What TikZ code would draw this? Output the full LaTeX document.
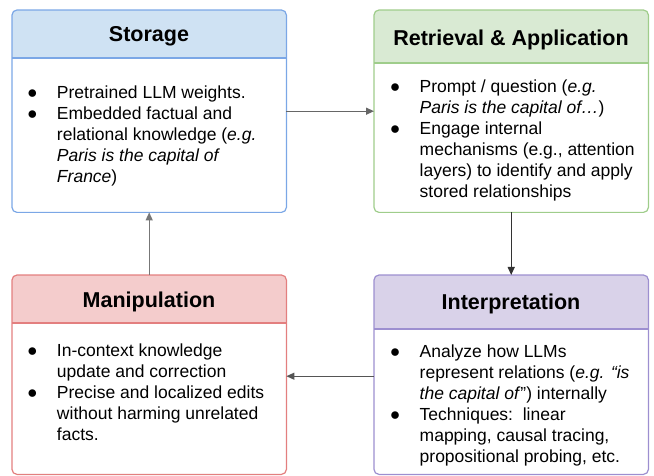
\documentclass[tikz,border=0pt]{standalone}
\usepackage{fontspec}
\setmainfont{Liberation Sans}
\usetikzlibrary{arrows.meta,calc}
\definecolor{bluehdr}{HTML}{CFE2F3}
\definecolor{blueln}{HTML}{7BA7E6}
\definecolor{greenhdr}{HTML}{D9EAD3}
\definecolor{greenln}{HTML}{9FCD8B}
\definecolor{redhdr}{HTML}{F4CCCC}
\definecolor{redln}{HTML}{E37F7F}
\definecolor{purphdr}{HTML}{D9D2E9}
\definecolor{purpln}{HTML}{9D8FD0}
\definecolor{arrA}{HTML}{666666}
\definecolor{arrB}{HTML}{333333}
\definecolor{arrC}{HTML}{777777}
\definecolor{arrD}{HTML}{555555}
\newcommand\bitem[1]{\par\noindent\hangindent=24.5bp\hangafter=1\makebox[0pt]{●}\hspace*{24.5bp}#1}
\newcommand\bodybox[1]{\begin{minipage}[t]{250bp}\parfillskip=0pt plus 1fil #1\end{minipage}}
\tikzset{
 panel/.style={rectangle, minimum width=274bp, inner sep=0pt, anchor=north west},
 outline/.style={line width=1.2bp, rounded corners=5bp},
 ttl/.style={font=\fontsize{21.5bp}{26bp}\selectfont\bfseries, anchor=base, inner sep=0pt},
 body/.style={font=\fontsize{17.5bp}{21bp}\selectfont, anchor=base west, inner sep=0pt},
 flow/.style={line width=1.3bp, -{Triangle[length=8bp,width=7bp]}},
}
\begin{document}
\begin{tikzpicture}[x=1bp,y=-1bp]
\useasboundingbox (0,0) rectangle (654,476);
% Storage
\node[panel, minimum height=202bp] (storage) at (12,10) {};
\begin{scope}
\clip[rounded corners=5bp] (storage.north west) rectangle (storage.south east);
\fill[bluehdr] (storage.north west) rectangle ($(storage.north east)+(0,48)$);
\end{scope}
\draw[blueln, line width=1.2bp] ($(storage.north west)+(0,48)$) -- ($(storage.north east)+(0,48)$);
\draw[outline, blueln] (storage.north west) rectangle (storage.south east);
\node[ttl] (storageT) at (149,42) {Storage};
\node[body] (storageB) at (32.3,99) {\bodybox{\bitem{Pretrained LLM weights.}\bitem{Embedded factual and\newline relational knowledge (\textit{e.g.}\newline \textit{Paris is the capital of}\newline \textit{France})}}};
% Retrieval
\node[panel, minimum height=202bp] (retrieval) at (374,10) {};
\begin{scope}
\clip[rounded corners=5bp] (retrieval.north west) rectangle (retrieval.south east);
\fill[greenhdr] (retrieval.north west) rectangle ($(retrieval.north east)+(0,53)$);
\end{scope}
\draw[greenln, line width=1.2bp] ($(retrieval.north west)+(0,53)$) -- ($(retrieval.north east)+(0,53)$);
\draw[outline, greenln] (retrieval.north west) rectangle (retrieval.south east);
\node[ttl] (retrievalT) at (511,45.5) {Retrieval \& Application};
\node[body] (retrievalB) at (395,93) {\bodybox{\bitem{Prompt / question (\textit{e.g.}\newline \textit{Paris is the capital of…})}\bitem{Engage internal\newline mechanisms (e.g., attention\newline layers) to identify and apply\newline stored relationships}}};
% Manipulation
\node[panel, minimum height=199bp] (manip) at (12,275) {};
\begin{scope}
\clip[rounded corners=5bp] (manip.north west) rectangle (manip.south east);
\fill[redhdr] (manip.north west) rectangle ($(manip.north east)+(0,48)$);
\end{scope}
\draw[redln, line width=1.2bp] ($(manip.north west)+(0,48)$) -- ($(manip.north east)+(0,48)$);
\draw[outline, redln] (manip.north west) rectangle (manip.south east);
\node[ttl] (manipT) at (149,307.5) {Manipulation};
\node[body] (manipB) at (32.3,356.5) {\bodybox{\bitem{In-context knowledge\newline update and correction}\bitem{Precise and localized edits\newline without harming unrelated\newline facts.}}};
% Interpretation
\node[panel, minimum height=199bp] (interp) at (374,275) {};
\begin{scope}
\clip[rounded corners=5bp] (interp.north west) rectangle (interp.south east);
\fill[purphdr] (interp.north west) rectangle ($(interp.north east)+(0,54)$);
\end{scope}
\draw[purpln, line width=1.2bp] ($(interp.north west)+(0,54)$) -- ($(interp.north east)+(0,54)$);
\draw[outline, purpln] (interp.north west) rectangle (interp.south east);
\node[ttl] (interpT) at (511,310) {Interpretation};
\node[body] (interpB) at (395,357) {\bodybox{\bitem{Analyze how LLMs\newline represent relations (\textit{e.g.} \textit{“is}\newline \textit{the capital of}”) internally}\bitem{Techniques:\ \ linear\newline mapping, causal tracing,\newline propositional probing, etc.}}};
% connectors
\draw[flow, arrA] (storage.east) -- (retrieval.west);
\draw[flow, arrB] (retrieval.south) -- (interp.north);
\draw[flow, arrD] ([yshift=-1.5bp]interp.west) -- ([yshift=-1.5bp]manip.east);
\draw[flow, arrC] (manip.north) -- (storage.south);
\end{tikzpicture}
\end{document}
